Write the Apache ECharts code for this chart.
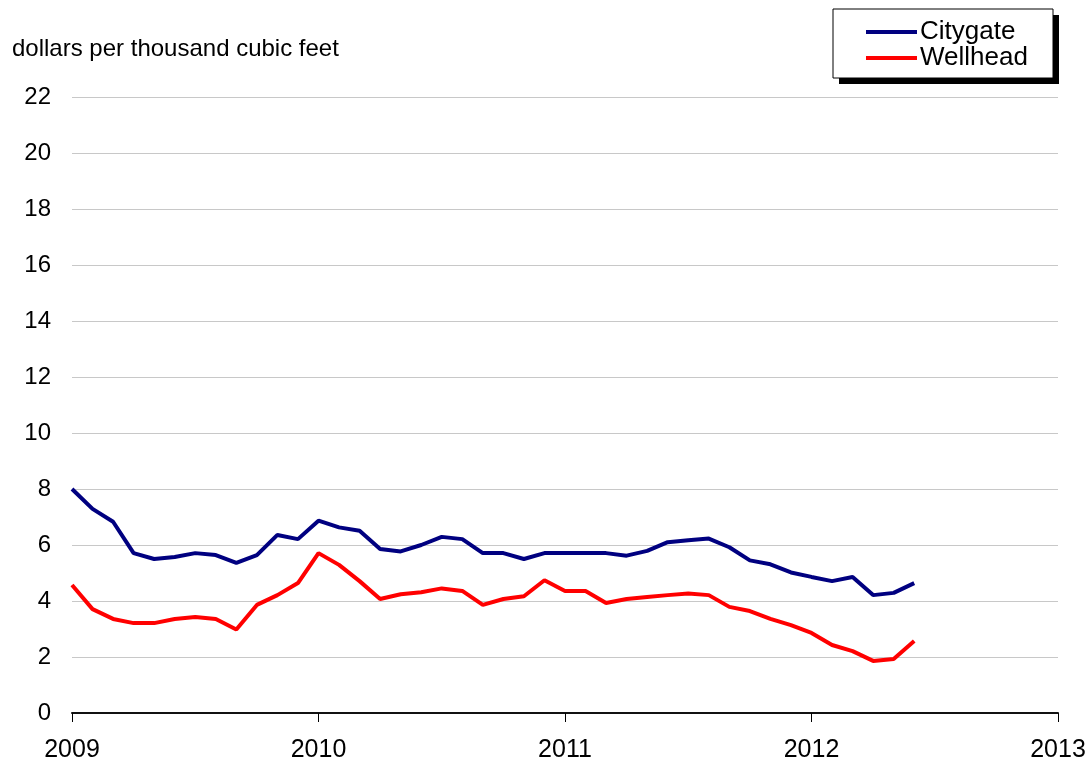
<!DOCTYPE html>
<html>
<head>
<meta charset="utf-8">
<script src="https://cdn.jsdelivr.net/npm/echarts@6/dist/echarts.min.js"></script>
<style>
  html, body { margin: 0; padding: 0; background: #fff; }
  #chart { width: 1091px; height: 763px; }
</style>
</head>
<body>
<div id="chart"></div>
<script>
// monthly, Jan 2009 .. Jun 2012
var startYear = 2009;
var citygate = [8.0, 7.29, 6.83, 5.71, 5.5, 5.57, 5.71, 5.64, 5.36, 5.64, 6.36, 6.21,
  6.87, 6.63, 6.51, 5.86, 5.77, 6.0, 6.29, 6.21, 5.71, 5.71, 5.5, 5.71,
  5.71, 5.71, 5.71, 5.62, 5.79, 6.1, 6.17, 6.23, 5.92, 5.45, 5.31, 5.02,
  4.86, 4.71, 4.86, 4.21, 4.29, 4.64];
var wellhead = [4.57, 3.71, 3.36, 3.21, 3.21, 3.36, 3.43, 3.36, 2.98, 3.86, 4.21, 4.64,
  5.71, 5.29, 4.71, 4.07, 4.24, 4.31, 4.45, 4.36, 3.86, 4.07, 4.17, 4.74,
  4.36, 4.36, 3.93, 4.07, 4.14, 4.21, 4.27, 4.21, 3.79, 3.64, 3.36, 3.14,
  2.86, 2.43, 2.21, 1.86, 1.93, 2.57];
var seriesNames = ['Citygate', 'Wellhead'];
var yMin = 0, yMax = 22, yStep = 2;
var xMin = 2009, xMax = 2013;

function toPairs(vals) {
  return vals.map(function (v, i) { return [startYear + i / 12, v]; });
}

var font = '"Liberation Sans", Arial, sans-serif';

var chart = echarts.init(document.getElementById('chart'), null, { renderer: 'canvas' });

var option = {
  backgroundColor: '#fff',
  animation: false,
  title: {
    text: 'dollars per thousand cubic feet',
    left: 7,
    top: 32,
    textStyle: { fontFamily: font, fontSize: 24, fontWeight: 'normal', color: '#000' }
  },
  // legend box + drop shadow
  graphic: [
    { type: 'rect', z: 1, shape: { x: 839, y: 15, width: 220, height: 69 }, style: { fill: '#000' } },
    { type: 'rect', z: 2, shape: { x: 833, y: 9, width: 220, height: 69 }, style: { fill: '#fff', stroke: '#000', lineWidth: 1 } }
  ],
  legend: {
    orient: 'vertical',
    left: 866,
    top: 19,
    z: 10,
    data: seriesNames,
    icon: 'rect',
    itemWidth: 51,
    itemHeight: 4,
    itemGap: 0,
    padding: 0,
    textStyle: { fontFamily: font, fontSize: 26, lineHeight: 22, color: '#000', padding: [0, 0, 0, -2] }
  },
  grid: {
    left: 72,
    right: 33,
    top: 97,
    bottom: 49,
    containLabel: false
  },
  xAxis: {
    type: 'value',
    min: xMin,
    max: xMax,
    interval: 1,
    splitLine: { show: false },
    axisLine: { show: true, lineStyle: { color: '#111', width: 2 } },
    axisTick: { show: true, length: 9, lineStyle: { color: '#000', width: 1 } },
    axisLabel: {
      margin: 25,
      fontFamily: font,
      fontSize: 25,
      color: '#000',
      formatter: function (v) { return String(Math.round(v)); }
    }
  },
  yAxis: {
    type: 'value',
    min: yMin,
    max: yMax,
    interval: yStep,
    axisLine: { show: false },
    axisTick: { show: false },
    splitLine: { show: true, lineStyle: { color: '#c8c8c8', width: 1 } },
    axisLabel: { margin: 21, fontFamily: font, fontSize: 24, color: '#000' }
  },
  series: [
    {
      name: seriesNames[0],
      type: 'line',
      symbol: 'none',
      data: toPairs(citygate),
      lineStyle: { color: '#000080', width: 4 },
      itemStyle: { color: '#000080' }
    },
    {
      name: seriesNames[1],
      type: 'line',
      symbol: 'none',
      data: toPairs(wellhead),
      lineStyle: { color: '#ff0000', width: 4 },
      itemStyle: { color: '#ff0000' }
    }
  ]
};

chart.setOption(option);
</script>
</body>
</html>
